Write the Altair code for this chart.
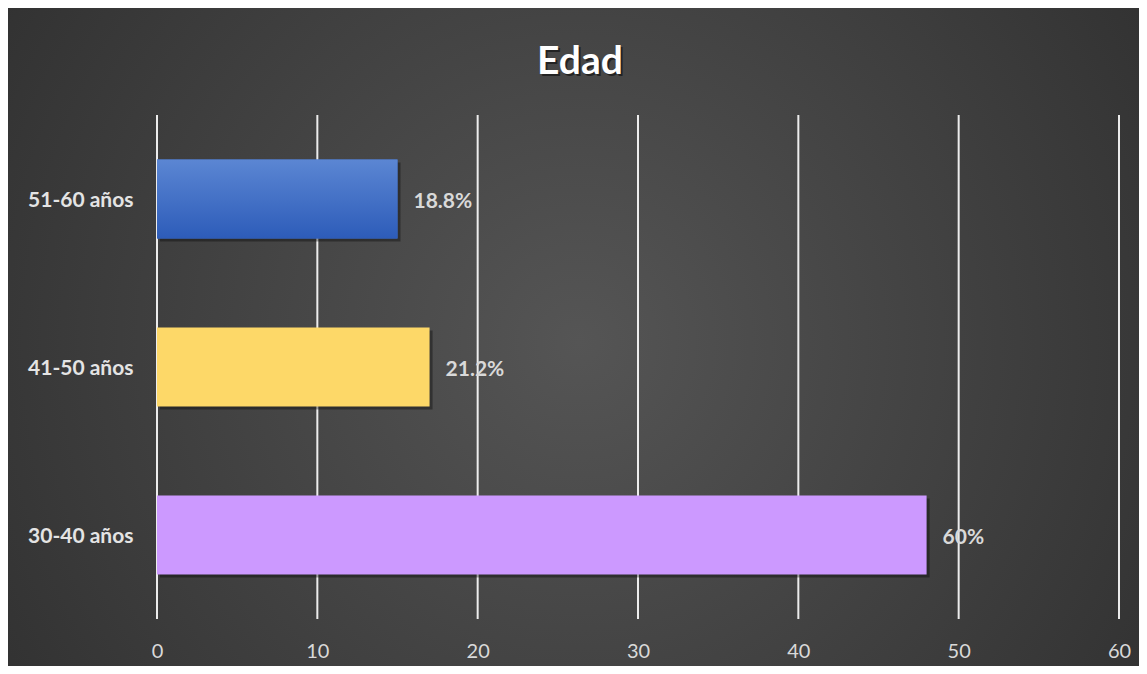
import altair as alt
import pandas as pd

categories = ["51-60 años", "41-50 años", "30-40 años"]
values = [15, 17, 48]
labels = ["18.8%", "21.2%", "60%"]
colors = ["#3f6fc9", "#fdd868", "#cc99ff"]
tick_values = [0, 10, 20, 30, 40, 50, 60]
title_text = ["Edad"]

df = pd.DataFrame({"cat": categories, "val": values, "lab": labels})
gdf = pd.DataFrame({"val": tick_values})
tdf = pd.DataFrame({"t": title_text})

W, H = 962, 504
PL, PT, PR, PB = 149, 107, 20, 47

xscale = alt.Scale(domain=[0, 60], nice=False)
xaxis = alt.Axis(values=tick_values, domain=False, ticks=False,
                 grid=False, zindex=1, labelPadding=22, labelFont="Lato",
                 labelFontSize=20, labelColor="#d9d9d9", labelFlush=False)

y_enc = alt.Y("cat:N", sort=categories, title=None,
              scale=alt.Scale(paddingInner=0.53, paddingOuter=0.265),
              axis=alt.Axis(domain=False, ticks=False, grid=False, labelPadding=24, zindex=1,
                            labelFont="Lato", labelFontSize=21, labelFontWeight="bold",
                            labelColor="#e4e4e4", labelOffset=2))
x_enc = alt.X("val:Q", title=None, scale=xscale, axis=xaxis)

bg = alt.Chart(df).mark_rect(
    fill={"gradient": "radial", "x1": 0.5, "y1": 0.5, "x2": 0.5, "y2": 0.5,
          "r1": 0, "r2": 0.72,
          "stops": [{"offset": 0, "color": "#555555"}, {"offset": 1, "color": "#2a2a2a"}]}
).encode(x=alt.value(-PL), x2=alt.value(W + PR + 10), y=alt.value(-PT), y2=alt.value(H + PB + 10))

grid = alt.Chart(gdf).mark_rule(color="#ffffff", strokeWidth=2, opacity=0.9).encode(
    x=x_enc, y=alt.value(0), y2=alt.value(H))

shadow = alt.Chart(df).mark_bar(color="#000000", opacity=0.35, xOffset=3, yOffset=3).encode(
    x=x_enc, y=y_enc)

bars = alt.Chart(df).mark_bar().encode(
    x=x_enc, y=y_enc,
    color=alt.Color("cat:N", scale=alt.Scale(domain=categories, range=colors), legend=None))

blue = alt.Chart(df).transform_filter(alt.datum.cat == "51-60 años").mark_bar(
    fill={"gradient": "linear", "x1": 0, "y1": 0, "x2": 0, "y2": 1,
          "stops": [{"offset": 0, "color": "#5b86d3"}, {"offset": 1, "color": "#2d5cb9"}]}
).encode(x=x_enc, y=y_enc)

text = alt.Chart(df).mark_text(align="left", baseline="middle", dx=16, dy=3,
                               font="Lato", fontSize=21, fontWeight="bold",
                               color="#d9d9d9").encode(x=x_enc, y=y_enc, text="lab:N")

title_shadow = alt.Chart(tdf).mark_text(align="center", baseline="middle", font="Lato",
                                        fontSize=39, fontWeight="bold", color="#000000",
                                        opacity=0.5, dx=2, dy=2).encode(
    x=alt.value(423), y=alt.value(-53), text="t:N")
title = alt.Chart(tdf).mark_text(align="center", baseline="middle", font="Lato",
                                 fontSize=39, fontWeight="bold", color="#ffffff").encode(
    x=alt.value(423), y=alt.value(-53), text="t:N")

chart = alt.layer(bg, grid, shadow, bars, blue, text, title_shadow, title).properties(
    width=W, height=H,
    autosize=alt.AutoSizeParams(type="none"),
    padding={"left": PL, "top": PT, "right": PR, "bottom": PB},
    background="#2e2e2e",
).configure_view(stroke=None)

chart.save("out.html", embed_options={"renderer": "svg", "actions": False})
